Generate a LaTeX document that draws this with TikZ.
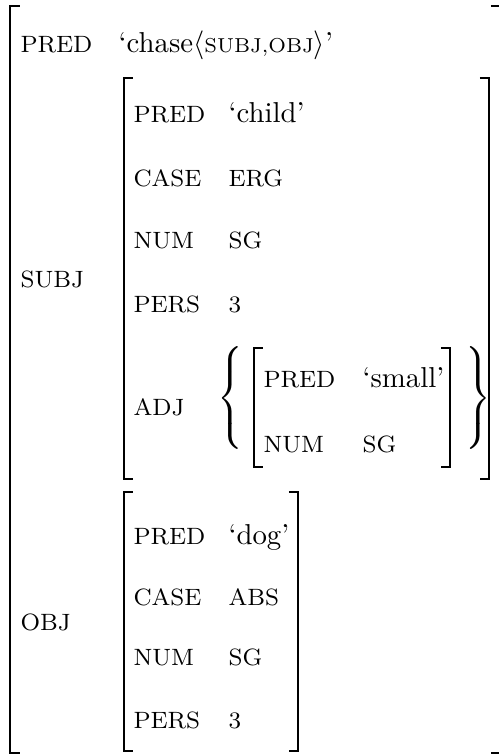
\documentclass[tikz,border=0pt]{standalone}
\newcommand{\ft}[1]{{\scriptsize\MakeUppercase{#1}}}
\newcommand{\attrfont}{\fontsize{8.2}{10}\selectfont}
\begin{document}
\begin{tikzpicture}[x=0.3472pt,y=-0.3472pt,
  attr/.style={anchor=base west,inner sep=0pt,font=\attrfont},
  val/.style={anchor=base west,inner sep=0pt},
  brk/.style={line width=0.6pt,line cap=butt}]
\useasboundingbox (0,0) rectangle (499,755);
% outer brackets
\draw[brk] (20,6) -- (10,6) -- (10,753) -- (20,753);
\draw[brk] (491,6) -- (500,6) -- (500,753) -- (491,753);
\node[attr] (p0) at (20,52) {PRED};
\node[val] (v0) at (118,52) {`chase$\langle$\ft{SUBJ,OBJ}$\rangle$'};
\node[attr] (subj) at (20,287) {SUBJ};
\node[attr] (obj) at (20,630) {OBJ};
% SUBJ
\draw[brk] (133,78) -- (124,78) -- (124,479) -- (133,479);
\draw[brk] (480,78) -- (489,78) -- (489,479) -- (480,479);
\node[attr] (sp) at (133,122) {PRED};
\node[val] (spv) at (228,122) {`child'};
\node[attr] (sc) at (133,186) {CASE};
\node[attr] (scv) at (228,186) {ERG};
\node[attr] (sn) at (133,248) {NUM};
\node[attr] (snv) at (228,248) {SG};
\node[attr] (spe) at (133,312) {PERS};
\node[attr] (spev) at (228,312) {3};
\node[attr] (sa) at (133,415) {ADJ};
% ADJ set
\node[inner sep=0pt,anchor=east] (lb) at (247,398) {$\left\{\vrule height 20pt depth 15pt width 0pt\right.$};
\node[inner sep=0pt,anchor=west] (rb) at (461,398) {$\left.\vrule height 20pt depth 15pt width 0pt\right\}$};
\draw[brk] (263,348) -- (254,348) -- (254,467) -- (263,467);
\draw[brk] (441,348) -- (450,348) -- (450,467) -- (441,467);
\node[attr] (ap) at (263,387) {PRED};
\node[val] (apv) at (362,387) {`small'};
\node[attr] (an) at (263,452) {NUM};
\node[attr] (anv) at (362,452) {SG};
% OBJ
\draw[brk] (133,492) -- (124,492) -- (124,751) -- (133,751);
\draw[brk] (289,492) -- (298,492) -- (298,751) -- (289,751);
\node[attr] (op) at (133,544) {PRED};
\node[val] (opv) at (228,544) {`dog'};
\node[attr] (oc) at (133,605) {CASE};
\node[attr] (ocv) at (228,605) {ABS};
\node[attr] (on) at (133,665) {NUM};
\node[attr] (onv) at (228,665) {SG};
\node[attr] (ope) at (133,728) {PERS};
\node[attr] (opev) at (228,728) {3};
\end{tikzpicture}
\end{document}
